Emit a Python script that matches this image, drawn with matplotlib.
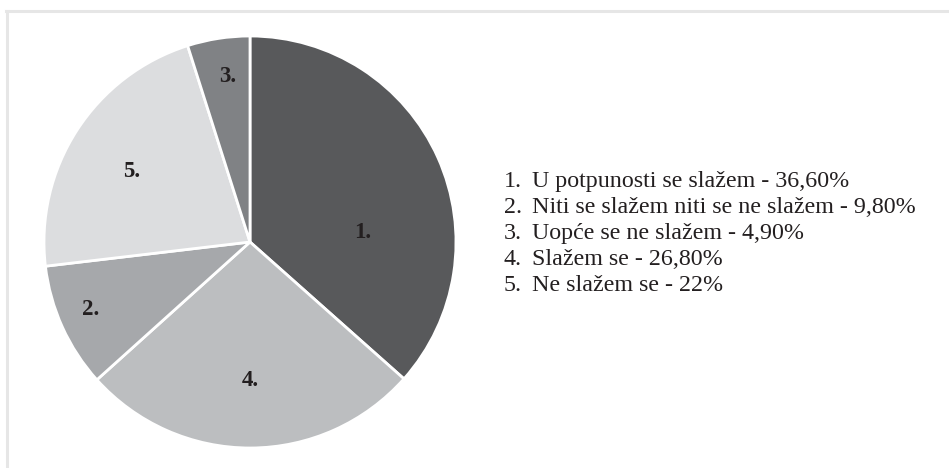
import matplotlib.pyplot as plt
import numpy as np
from matplotlib.lines import Line2D

# slices in drawing order (clockwise from 12 o'clock)
slice_ids = ["1.", "4.", "2.", "5.", "3."]
slice_values = [36.6, 26.8, 9.8, 22.0, 4.9]
slice_colors = ["#58595b", "#bcbec0", "#a6a8ab", "#dcdddf", "#808285"]

legend_nums = ["1.", "2.", "3.", "4.", "5."]
legend_texts = [
    "U potpunosti se slažem - 36,60%",
    "Niti se slažem niti se ne slažem - 9,80%",
    "Uopće se ne slažem - 4,90%",
    "Slažem se - 26,80%",
    "Ne slažem se - 22%",
]

W, H = 949, 468
fig = plt.figure(figsize=(W / 100, H / 100), dpi=100)
ax = fig.add_axes([0, 0, 1, 1])

cx, cy, r = 250, H - 242, 206
wedges, _ = ax.pie(
    slice_values,
    colors=slice_colors,
    startangle=90,
    counterclock=False,
    center=(cx, cy),
    radius=r,
    wedgeprops=dict(edgecolor="white", linewidth=2.0),
)
ax.set_xlim(0, W)
ax.set_ylim(0, H)
ax.set_aspect("equal")
ax.axis("off")

# slice labels: radial distance and angle tweak per slice
label_dist = [0.55, 0.67, 0.84, 0.67, 0.81]
label_turn = [-19.5, 0, -1.5, 2, -1]
for w, lab, d, t in zip(wedges, slice_ids, label_dist, label_turn):
    ang = np.deg2rad((w.theta1 + w.theta2) / 2 + t)
    ax.text(cx + d * r * np.cos(ang), cy + d * r * np.sin(ang), lab,
            ha="center", va="center", fontsize=16.5, fontweight="bold",
            family="Liberation Serif", color="#231f20")

# legend text on the right
for i, (num, txt) in enumerate(zip(legend_nums, legend_texts)):
    y = 1 - (187 + 26 * i) / H
    fig.text(504 / W, y, num, ha="left", va="baseline", fontsize=17.3,
             family="Liberation Serif", color="#231f20")
    fig.text(532 / W, y, txt, ha="left", va="baseline", fontsize=17.3,
             family="Liberation Serif", color="#231f20")

# light frame at top and left
fig.add_artist(Line2D([6 / W, 1], [1 - 11 / H, 1 - 11 / H],
                      transform=fig.transFigure, color="#e6e6e6", lw=2.2))
fig.add_artist(Line2D([7 / W, 7 / W], [0, 1 - 11 / H],
                      transform=fig.transFigure, color="#e6e6e6", lw=2.2))

fig.savefig("out.png", dpi=100)
